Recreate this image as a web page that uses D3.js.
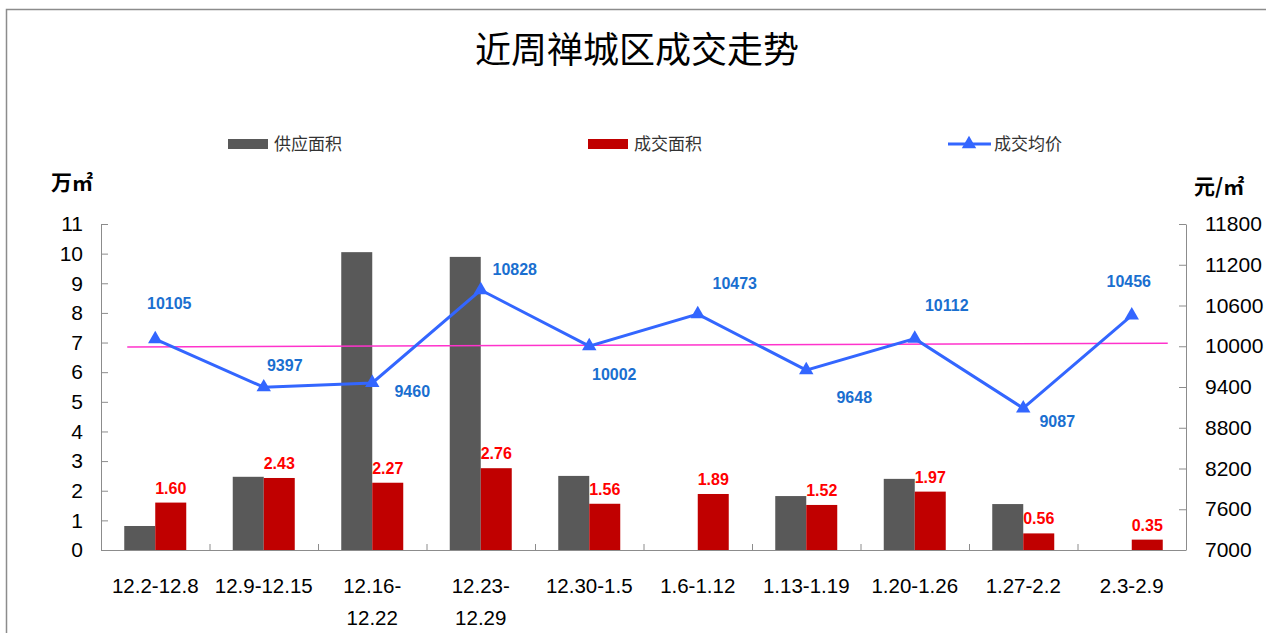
<!DOCTYPE html>
<html>
<head>
<meta charset="utf-8">
<script src="https://cdn.jsdelivr.net/npm/d3@7"></script>
<style>
  body { margin: 0; background: #fff; }
  svg { display: block; }
</style>
</head>
<body>
<div id="chart"></div>
<script>
// chart data
const categories = ["12.2-12.8", "12.9-12.15", "12.16-12.22", "12.23-12.29", "12.30-1.5",
                    "1.6-1.12", "1.13-1.19", "1.20-1.26", "1.27-2.2", "2.3-2.9"];
const categoryLines = [["12.2-12.8"], ["12.9-12.15"], ["12.16-", "12.22"], ["12.23-", "12.29"], ["12.30-1.5"],
                       ["1.6-1.12"], ["1.13-1.19"], ["1.20-1.26"], ["1.27-2.2"], ["2.3-2.9"]];
const supplyArea = [0.81, 2.47, 10.05, 9.89, 2.50, 0, 1.82, 2.40, 1.55, 0];
const dealArea = [1.60, 2.43, 2.27, 2.76, 1.56, 1.89, 1.52, 1.97, 0.56, 0.35];
const avgPrice = [10105, 9397, 9460, 10828, 10002, 10473, 9648, 10112, 9087, 10456];
const refLine = [9990, 10045];
const leftTicks = [0, 1, 2, 3, 4, 5, 6, 7, 8, 9, 10, 11];
const rightTicks = [7000, 7600, 8200, 8800, 9400, 10000, 10600, 11200, 11800];

// label offsets for the price labels (dx, dy from the marker)
const priceLabelOffset = [[14, -36], [21, -22], [40, 8], [34, -21], [25, 28],
                          [37, -31], [48, 27], [32, -33], [34, 13], [-3, -34]];

const W = 1266, H = 633;
const plot = { left: 101, right: 1186, top: 224, bottom: 550 };

const svg = d3.select("#chart").append("svg")
  .attr("width", W)
  .attr("height", H)
  .style("font-family", "'Liberation Sans', Arial, sans-serif");

// outer frame
svg.append("rect")
  .attr("x", 6.5).attr("y", 9.5)
  .attr("width", W + 10).attr("height", H + 10)
  .attr("fill", "none")
  .attr("stroke", "#8c8c8c")
  .attr("stroke-width", 1.5);

// title
svg.append("text")
  .attr("x", 637).attr("y", 63)
  .attr("text-anchor", "middle")
  .style("font-family", "'Noto Sans CJK SC', sans-serif")
  .style("font-size", "36px")
  .style("fill", "#000")
  .text("近周禅城区成交走势");

// scales
const x0 = d3.scaleBand(categories, [plot.left, plot.right]);
const x1 = d3.scaleBand(["supply", "deal"], [23.25, x0.bandwidth() - 23.25]);
const yL = d3.scaleLinear([0, 11], [plot.bottom, plot.top]);
const yR = d3.scaleLinear([7000, 11800], [plot.bottom, plot.top]);
const cx = c => x0(c) + x0.bandwidth() / 2;

// left axis
const leftAxis = svg.append("g")
  .attr("transform", `translate(${plot.left},0)`)
  .call(d3.axisLeft(yL).tickValues(leftTicks).tickSizeInner(-7).tickSizeOuter(0).tickPadding(18));
leftAxis.select(".domain").attr("stroke", "#8c8c8c");
leftAxis.selectAll(".tick line").attr("stroke", "#8c8c8c");
leftAxis.selectAll("text")
  .style("font-size", "21px")
  .style("fill", "#000")
  .style("font-family", "'Liberation Sans', Arial, sans-serif");

// right axis
const rightAxis = svg.append("g")
  .attr("transform", `translate(${plot.right},0)`)
  .call(d3.axisRight(yR).tickValues(rightTicks).tickFormat(d3.format("d"))
    .tickSizeInner(-7).tickSizeOuter(0).tickPadding(19));
rightAxis.select(".domain").attr("stroke", "#8c8c8c");
rightAxis.selectAll(".tick line").attr("stroke", "#8c8c8c");
rightAxis.selectAll("text")
  .style("font-size", "21px")
  .style("fill", "#000")
  .style("font-family", "'Liberation Sans', Arial, sans-serif");

// axis unit labels
svg.append("text")
  .attr("x", 51).attr("y", 190)
  .style("font-family", "'Noto Sans CJK SC', sans-serif")
  .style("font-size", "21px")
  .style("font-weight", "bold")
  .text("万㎡");
svg.append("text")
  .attr("x", 1194).attr("y", 194)
  .style("font-family", "'Noto Sans CJK SC', sans-serif")
  .style("font-size", "21px")
  .style("font-weight", "bold")
  .text("元/㎡");

// x axis line and ticks between categories
svg.append("line")
  .attr("x1", plot.left).attr("x2", plot.right)
  .attr("y1", plot.bottom + 0.5).attr("y2", plot.bottom + 0.5)
  .attr("stroke", "#8c8c8c");
svg.selectAll(".xtick")
  .data(categories.slice(1))
  .enter()
  .append("line")
  .attr("class", "xtick")
  .attr("x1", d => x0(d) + 0.5).attr("x2", d => x0(d) + 0.5)
  .attr("y1", plot.bottom).attr("y2", plot.bottom - 6)
  .attr("stroke", "#8c8c8c");

// category labels
const catText = svg.selectAll(".cat")
  .data(categories)
  .enter()
  .append("text")
  .attr("class", "cat")
  .attr("text-anchor", "middle")
  .style("font-size", "20.5px")
  .style("fill", "#000");
catText.selectAll("tspan")
  .data((d, i) => categoryLines[i].map(t => ({ t, c: d })))
  .enter()
  .append("tspan")
  .attr("x", d => cx(d.c))
  .attr("y", (d, j) => 593 + j * 32)
  .text(d => d.t);

// bars
svg.selectAll(".supply")
  .data(categories)
  .enter()
  .append("rect")
  .attr("class", "supply")
  .attr("x", d => x0(d) + x1("supply"))
  .attr("y", (d, i) => yL(supplyArea[i]))
  .attr("width", x1.bandwidth())
  .attr("height", (d, i) => yL(0) - yL(supplyArea[i]))
  .attr("fill", "#595959");

svg.selectAll(".deal")
  .data(categories)
  .enter()
  .append("rect")
  .attr("class", "deal")
  .attr("x", d => x0(d) + x1("deal"))
  .attr("y", (d, i) => yL(dealArea[i]))
  .attr("width", x1.bandwidth())
  .attr("height", (d, i) => yL(0) - yL(dealArea[i]))
  .attr("fill", "#c00000");

// values above the red bars
svg.selectAll(".dealLabel")
  .data(categories)
  .enter()
  .append("text")
  .attr("class", "dealLabel")
  .attr("x", d => x0(d) + x1("deal") + x1.bandwidth() / 2)
  .attr("y", (d, i) => yL(dealArea[i]) - 9)
  .attr("text-anchor", "middle")
  .style("font-size", "16px")
  .style("font-weight", "bold")
  .style("fill", "#ff0000")
  .text((d, i) => dealArea[i].toFixed(2));

// reference line
svg.append("line")
  .attr("x1", cx(categories[0]) - 28)
  .attr("x2", cx(categories[categories.length - 1]) + 36)
  .attr("y1", yR(refLine[0]))
  .attr("y2", yR(refLine[1]))
  .attr("stroke", "#ff33cc")
  .attr("stroke-width", 1.5);

// price line
const line = d3.line()
  .x((d, i) => cx(categories[i]))
  .y(d => yR(d));
svg.append("path")
  .datum(avgPrice)
  .attr("d", line)
  .attr("fill", "none")
  .attr("stroke", "#3366ff")
  .attr("stroke-width", 3);

const tri = d3.symbol().type(d3.symbolTriangle).size(90);
svg.selectAll(".marker")
  .data(avgPrice)
  .enter()
  .append("path")
  .attr("class", "marker")
  .attr("d", tri)
  .attr("transform", (d, i) => `translate(${cx(categories[i])},${yR(d)})`)
  .attr("fill", "#3366ff");

svg.selectAll(".priceLabel")
  .data(avgPrice)
  .enter()
  .append("text")
  .attr("class", "priceLabel")
  .attr("x", (d, i) => cx(categories[i]) + priceLabelOffset[i][0])
  .attr("y", (d, i) => yR(d) + priceLabelOffset[i][1])
  .attr("dy", "0.35em")
  .attr("text-anchor", "middle")
  .style("font-size", "16px")
  .style("font-weight", "bold")
  .style("fill", "#1a6fd0")
  .text(d => d);

// legend
const legendFont = "'Noto Sans CJK SC', sans-serif";
svg.append("rect").attr("x", 228).attr("y", 139).attr("width", 40).attr("height", 10).attr("fill", "#595959");
svg.append("text").attr("x", 274).attr("y", 144).attr("dy", "0.35em")
  .style("font-family", legendFont).style("font-size", "17px").style("fill", "#333")
  .text("供应面积");
svg.append("rect").attr("x", 588).attr("y", 139).attr("width", 40).attr("height", 10).attr("fill", "#c00000");
svg.append("text").attr("x", 634).attr("y", 144).attr("dy", "0.35em")
  .style("font-family", legendFont).style("font-size", "17px").style("fill", "#333")
  .text("成交面积");
svg.append("line").attr("x1", 948).attr("x2", 991).attr("y1", 144).attr("y2", 144)
  .attr("stroke", "#3366ff").attr("stroke-width", 3);
svg.append("path").attr("d", tri).attr("transform", "translate(969,144)").attr("fill", "#3366ff");
svg.append("text").attr("x", 994).attr("y", 144).attr("dy", "0.35em")
  .style("font-family", legendFont).style("font-size", "17px").style("fill", "#333")
  .text("成交均价");
</script>
</body>
</html>
